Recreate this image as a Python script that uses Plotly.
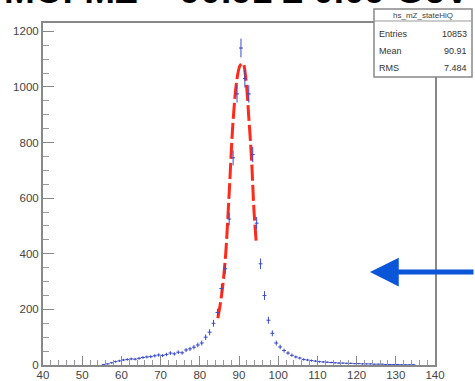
import plotly.graph_objects as go
import numpy as np

# ---------------- data ----------------
bin_centers = [55.5, 56.5, 57.5, 58.5, 59.5, 60.5, 61.5, 62.5, 63.5, 64.5,
               65.5, 66.5, 67.5, 68.5, 69.5, 70.5, 71.5, 72.5, 73.5, 74.5,
               75.5, 76.5, 77.5, 78.5, 79.5, 80.5, 81.5, 82.5, 83.5, 84.5,
               85.5, 86.5, 87.5, 88.5, 89.5, 90.5, 91.5, 92.5, 93.5, 94.5,
               95.5, 96.5, 97.5, 98.5, 99.5, 100.5, 101.5, 102.5, 103.5, 104.5,
               105.5, 106.5, 107.5, 108.5, 109.5, 110.5, 111.5, 112.5, 113.5, 114.5,
               115.5, 116.5, 117.5, 118.5, 119.5, 120.5, 121.5, 122.5, 123.5, 124.5,
               125.5, 126.5, 127.5, 128.5, 129.5, 130.5, 131.5, 132.5, 133.5, 134.5]
counts = [2, 4, 8, 12, 15, 18, 20, 22, 21, 24,
          27, 29, 30, 33, 36, 34, 38, 43, 40, 46,
          44, 54, 58, 64, 72, 79, 100, 118, 150, 189,
          275, 346, 525, 745, 975, 1140, 1030, 975, 757, 510,
          364, 250, 161, 114, 79, 65, 52, 43, 35, 29,
          25, 20, 18, 16, 14, 12, 11, 10, 9, 8,
          7, 7, 6, 6, 5, 5, 4, 4, 4, 3,
          3, 3, 2, 2, 2, 2, 1, 1, 1, 1]

fit_x = [84.6, 85.5, 86.5, 87.5, 88.5, 89.5, 90.3, 91.0, 91.7, 92.5, 93.2, 93.8, 94.4]
fit_y = [168, 245, 380, 620, 880, 1030, 1078, 1085, 1035, 890, 740, 560, 440]

title_text = "MC: MZ = 90.91 ± 0.09 GeV"
stats_title = "hs_mZ_stateHiQ"
stats_rows = [("Entries", "10853"), ("Mean", "90.91"), ("RMS", "7.484")]

x_range = [40, 140]
y_range = [0, 1230]

# ---------------- figure ----------------
W, H = 475, 381
ml, mr, mt, mb = 43, 40, 23, 16
pw = W - ml - mr
ph = H - mt - mb

def px_x(p):
    return (p - ml) / pw

def px_y(p):
    return (H - mb - p) / ph

fig = go.Figure()

fig.add_trace(go.Scatter(
    x=fit_x, y=fit_y, mode="lines", line_shape="spline",
    line=dict(color="#ff2a1a", width=3, dash="16px,4px"),
    showlegend=False, hoverinfo="skip"))

errs = [np.sqrt(c) for c in counts]
fig.add_trace(go.Scatter(
    x=bin_centers, y=counts, mode="markers",
    marker=dict(size=1, color="rgb(60,75,205)"),
    error_y=dict(type="data", array=errs, visible=True, width=0,
                 thickness=1, color="rgb(60,75,205)"),
    error_x=dict(type="constant", value=0.5, visible=True, width=0,
                 thickness=1, color="rgb(60,75,205)"),
    showlegend=False))

axis_font = dict(family="Liberation Sans, Arial", size=11.5, color="#444")

fig.update_xaxes(range=x_range, showgrid=False, zeroline=False, automargin=False,
                 showline=True, linecolor="#888", linewidth=2, mirror=True,
                 ticks="inside", ticklen=9, tickcolor="#888", tickwidth=1,
                 dtick=10, tick0=40, tickfont=axis_font, ticklabelstandoff=-2,
                 minor=dict(ticks="inside", ticklen=5, dtick=2, tickcolor="#999"))
fig.update_yaxes(range=y_range, showgrid=False, zeroline=False, automargin=False,
                 showline=True, linecolor="#888", linewidth=2, mirror=True,
                 ticks="inside", ticklen=11, tickcolor="#888", tickwidth=1,
                 dtick=200, tick0=0, tickfont=axis_font,
                 minor=dict(ticks="inside", ticklen=6, dtick=50, tickcolor="#999"))

shapes = []
annotations = []

# stats box
bx0, bx1, by0, by1 = 374, 472, 9, 77
shapes.append(dict(type="rect", xref="paper", yref="paper",
                   x0=px_x(bx0), x1=px_x(bx1), y0=px_y(by1), y1=px_y(by0),
                   fillcolor="white", line=dict(color="#888", width=1.5), layer="above"))
shapes.append(dict(type="line", xref="paper", yref="paper",
                   x0=px_x(bx0), x1=px_x(bx1), y0=px_y(21), y1=px_y(21),
                   line=dict(color="#999", width=1), layer="above"))
title_font = dict(family="Liberation Sans, Arial", size=8, color="#444")
stat_font = dict(family="Liberation Sans, Arial", size=9, color="#333")
annotations.append(dict(xref="paper", yref="paper", x=px_x((bx0 + bx1) / 2), y=px_y(15),
                        text=stats_title, showarrow=False, font=title_font,
                        xanchor="center", yanchor="middle"))
for (lab, val), yy in zip(stats_rows, [34, 51, 68]):
    annotations.append(dict(xref="paper", yref="paper", x=px_x(377), y=px_y(yy),
                            text=lab, showarrow=False, font=stat_font,
                            xanchor="left", yanchor="middle"))
    annotations.append(dict(xref="paper", yref="paper", x=px_x(469), y=px_y(yy),
                            text=val, showarrow=False, font=stat_font,
                            xanchor="right", yanchor="middle"))

# big title, partly cut off at top
annotations.append(dict(xref="paper", yref="paper", x=px_x(2), y=px_y(8),
                        text="<b>" + title_text + "</b>", showarrow=False,
                        font=dict(family="Liberation Sans, Arial", size=37, color="black"),
                        xanchor="left", yanchor="bottom", yshift=-5))

# blue arrow
annotations.append(dict(xref="paper", yref="paper", x=px_x(370), y=px_y(272),
                        ax=110, ay=0, axref="pixel", ayref="pixel",
                        showarrow=True, arrowhead=2, arrowsize=1.15, arrowwidth=5,
                        arrowcolor="#0a55d8", text=""))

fig.update_layout(width=W, height=H, autosize=False,
                  margin=dict(l=ml, r=mr, t=mt, b=mb),
                  paper_bgcolor="white", plot_bgcolor="white",
                  shapes=shapes, annotations=annotations)

fig.write_html("out.html")
